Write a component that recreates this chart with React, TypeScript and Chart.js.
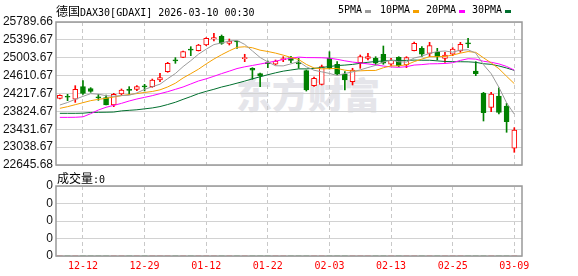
import React, { useEffect, useRef } from 'react';
import { Chart, registerables } from 'chart.js';

Chart.register(...registerables);

// ---------- data ----------
const dates = [
  '12-09', '12-10', '12-11', '12-12', '12-15', '12-16', '12-17', '12-18', '12-19', '12-22',
  '12-23', '12-29', '12-30', '01-02', '01-05', '01-06', '01-07', '01-08', '01-09', '01-12',
  '01-13', '01-14', '01-15', '01-16', '01-19', '01-20', '01-21', '01-22', '01-23', '01-26',
  '01-27', '01-28', '01-29', '01-30', '02-02', '02-03', '02-04', '02-05', '02-06', '02-09',
  '02-10', '02-11', '02-12', '02-13', '02-16', '02-17', '02-18', '02-19', '02-20', '02-23',
  '02-24', '02-25', '02-26', '02-27', '03-02', '03-03', '03-04', '03-05', '03-06', '03-09',
];

const opens = [
  24112, 24150, 24095, 24370, 24325, 24135, 24130, 23965, 24207, 24300,
  24309, 24375, 24368, 24515, 24698, 24945, 25010, 25180, 25159, 25284,
  25416, 25474, 25321, 25362, 24985, 24772, 24653, 24890, 24860, 24961,
  25005, 24900, 24720, 24389, 24420, 24990, 24860, 24640, 24477, 24895,
  24990, 24990, 25080, 24860, 25013, 24844, 25159, 25211, 25101, 25123,
  24990, 25080, 25152, 25330, 24712, 24229, 23914, 24163, 23943, 23013,
];
const highs = [
  24190, 24200, 24390, 24500, 24346, 24199, 24185, 24221, 24317, 24368,
  24390, 24419, 24536, 24661, 24903, 25006, 25152, 25247, 25299, 25445,
  25541, 25504, 25416, 25372, 25080, 24785, 24668, 24932, 24954, 25027,
  25035, 24990, 24734, 24580, 24844, 25137, 24917, 24697, 24772, 25064,
  25101, 25027, 25262, 24990, 25027, 25027, 25350, 25247, 25343, 25211,
  25123, 25225, 25343, 25431, 24917, 24244, 24244, 24345, 24002, 23466,
];
const lows = [
  24100, 24060, 24023, 24195, 24243, 24067, 23965, 23928, 24185, 24199,
  24280, 24273, 24353, 24478, 24683, 24881, 25005, 25049, 25152, 25269,
  25372, 25299, 25284, 25211, 24917, 24530, 24367, 24785, 24844, 24917,
  24895, 24772, 24272, 24376, 24405, 24756, 24625, 24295, 24405, 24772,
  24954, 24844, 24860, 24829, 24807, 24785, 25152, 25027, 25027, 24954,
  24903, 25049, 25123, 25225, 24609, 23613, 23818, 23767, 23365, 22925,
];
const closes = [
  24180, 24135, 24310, 24218, 24262, 24122, 23965, 24199, 24295, 24288,
  24368, 24365, 24515, 24566, 24881, 24935, 25137, 25170, 25284, 25431,
  25445, 25321, 25372, 25350, 24995, 24728, 24603, 24875, 24932, 24983,
  24947, 24870, 24295, 24551, 24807, 24772, 24640, 24514, 24734, 25027,
  25027, 24882, 24882, 24954, 24829, 25005, 25321, 25080, 25269, 25027,
  25064, 25196, 25299, 25310, 24653, 23796, 24207, 23804, 23598, 23415,
];

const ma5 = [
  23965, 24020, 24090, 24155, 24214, 24202, 24170, 24156, 24173, 24179,
  24230, 24309, 24367, 24422, 24544, 24657, 24809, 24940, 25082, 25192,
  25293, 25330, 25371, 25384, 25297, 25153, 25010, 24911, 24828, 24825,
  24869, 24922, 24805, 24729, 24694, 24659, 24613, 24657, 24693, 24737,
  24788, 24837, 24910, 24954, 24915, 24910, 24998, 25038, 25101, 25140,
  25152, 25127, 25171, 25179, 25104, 24851, 24653, 24354, 24012, 23764,
];
const ma10 = [
  23892, 23928, 23972, 24016, 24060, 24089, 24111, 24141, 24170, 24196,
  24216, 24240, 24262, 24298, 24362, 24444, 24559, 24654, 24752, 24868,
  24975, 25070, 25156, 25233, 25245, 25223, 25170, 25141, 25106, 25061,
  25011, 24966, 24858, 24779, 24760, 24764, 24768, 24731, 24711, 24716,
  24724, 24725, 24784, 24824, 24826, 24849, 24918, 24974, 25028, 25028,
  25031, 25063, 25105, 25140, 25122, 25002, 24890, 24763, 24596, 24434,
];
const ma20 = [
  23693, 23693, 23695, 23705, 23774, 23855, 23914, 23957, 24001, 24053,
  24097, 24133, 24170, 24214, 24258, 24309, 24361, 24427, 24493, 24540,
  24596, 24655, 24709, 24766, 24804, 24834, 24865, 24898, 24929, 24965,
  24993, 25018, 25007, 25006, 25003, 24994, 24969, 24936, 24909, 24889,
  24868, 24846, 24821, 24802, 24793, 24807, 24843, 24853, 24870, 24872,
  24878, 24894, 24945, 24982, 24974, 24926, 24904, 24869, 24812, 24731,
];
const ma30 = [
  23782, 23782, 23782, 23785, 23800, 23804, 23806, 23810, 23835, 23848,
  23860, 23880, 23900, 23930, 23975, 24025, 24089, 24150, 24215, 24265,
  24310, 24360, 24400, 24445, 24490, 24540, 24585, 24630, 24672, 24709,
  24734, 24759, 24759, 24770, 24789, 24811, 24832, 24842, 24857, 24882,
  24904, 24921, 24933, 24946, 24944, 24946, 24952, 24949, 24949, 24935,
  24922, 24918, 24916, 24914, 24903, 24872, 24859, 24823, 24778, 24726,
];

const volumes = [
  0, 0, 0, 0, 0, 0, 0, 0, 0, 0,
  0, 0, 0, 0, 0, 0, 0, 0, 0, 0,
  0, 0, 0, 0, 0, 0, 0, 0, 0, 0,
  0, 0, 0, 0, 0, 0, 0, 0, 0, 0,
  0, 0, 0, 0, 0, 0, 0, 0, 0, 0,
  0, 0, 0, 0, 0, 0, 0, 0, 0, 0,
];

const priceTicks = [
  22645.68, 23038.67, 23431.67, 23824.67, 24217.67, 24610.67, 25003.67, 25396.67, 25789.66,
];
const volumeTicks = [0, 1, 2, 3, 4];
const volumeTickLabels = ['0', '0', '0', '0', '0'];
const dateTickLabels = ['12-12', '12-29', '01-12', '01-22', '02-03', '02-13', '02-25', '03-09'];

const maSeries = [
  { name: '5PMA', values: ma5, color: '#9b9b9b' },
  { name: '10PMA', values: ma10, color: '#f5a000' },
  { name: '20PMA', values: ma20, color: '#ff00ff' },
  { name: '30PMA', values: ma30, color: '#006f2e' },
];

const titleCJK = '德国';
const titleRest = 'DAX30[GDAXI] 2026-03-10 00:30';
const volumeLabelCJK = '成交量';
const volumeLabelRest = ':0';
const watermark = '东方财富';

// ---------- style constants ----------
const UP = '#ff0000';
const DOWN = '#008000';
const GRID = '#d2d2d2';
const FRAME = '#999999';
const MONO = "'DejaVu Sans Mono', 'Liberation Mono', monospace";
const SANS = "'Liberation Sans', Arial, sans-serif";
const CJK = "'Noto Sans CJK SC', sans-serif";

const X_MIN = -0.5;
const X_MAX = 60;

const dateTickIdx = dateTickLabels.map((l) => dates.indexOf(l));

const framePlugin = {
  id: 'frame',
  afterDraw(chart: any) {
    const { ctx, chartArea: a } = chart;
    ctx.save();
    ctx.strokeStyle = FRAME;
    ctx.lineWidth = 1.5;
    ctx.strokeRect(a.left, a.top, a.right - a.left, a.bottom - a.top);
    ctx.restore();
  },
};

export default function App() {
  const mainRef = useRef<HTMLCanvasElement>(null);
  const volRef = useRef<HTMLCanvasElement>(null);

  useEffect(() => {
    const isUp = closes.map((c, i) => c >= opens[i]);

    const xScaleBase = {
      type: 'linear' as const,
      min: X_MIN,
      max: X_MAX,
      offset: false,
      grid: { color: '#c9c9c9', lineWidth: 1, drawTicks: false, offset: false },
      border: { display: false, dash: [4, 3] },
      afterBuildTicks: (scale: any) => {
        scale.ticks = dateTickIdx.map((v) => ({ value: v }));
      },
    };

    const main = new Chart(mainRef.current as HTMLCanvasElement, {
      type: 'line',
      data: {
        datasets: [
          ...maSeries.map((m) => ({
            type: 'line' as const,
            label: m.name,
            data: m.values.map((v, i) => ({ x: i, y: v })),
            borderColor: m.color,
            borderWidth: 1,
            pointRadius: 0,
            tension: 0,
            fill: false,
            order: 0,
          })),
          {
            type: 'bar' as const,
            label: 'body',
            data: opens.map((o, i) => ({ x: i, y: [o, closes[i]] })) as any,
            backgroundColor: isUp.map((u) => (u ? '#ffffff' : DOWN)),
            borderColor: isUp.map((u) => (u ? UP : DOWN)),
            borderWidth: 1,
            borderSkipped: false,
            barThickness: 5,
            minBarLength: 1,
            grouped: false,
            order: 1,
          },
          {
            type: 'bar' as const,
            label: 'wick',
            data: lows.map((l, i) => ({ x: i, y: [l, highs[i]] })) as any,
            backgroundColor: isUp.map((u) => (u ? UP : DOWN)),
            borderWidth: 0,
            barThickness: 1,
            grouped: false,
            order: 2,
          },
        ],
      },
      options: {
        responsive: false,
        maintainAspectRatio: false,
        animation: false,
        events: [],
        layout: { padding: { left: 0, right: 56, top: 22, bottom: 13 } },
        plugins: { legend: { display: false }, tooltip: { enabled: false }, title: { display: false } },
        scales: {
          x: {
            ...xScaleBase,
            ticks: { display: false },
            afterFit: (scale: any) => {
              scale.height = 0;
            },
          },
          y: {
            type: 'linear',
            min: priceTicks[0],
            max: priceTicks[priceTicks.length - 1],
            grid: { color: GRID, lineWidth: 1, drawTicks: false },
            border: { display: false },
            afterBuildTicks: (scale: any) => {
              scale.ticks = priceTicks.map((v) => ({ value: v }));
            },
            ticks: {
              padding: 3,
              color: '#111',
              font: { family: SANS, size: 12 },
              callback: (v: any) => Number(v).toFixed(2),
            },
            afterFit: (scale: any) => {
              scale.width = 56;
            },
          },
        },
      } as any,
      plugins: [framePlugin],
    });

    const vol = new Chart(volRef.current as HTMLCanvasElement, {
      type: 'bar',
      data: {
        datasets: [
          {
            label: 'volume',
            data: volumes.map((v, i) => ({ x: i, y: v })) as any,
            backgroundColor: isUp.map((u) => (u ? UP : DOWN)),
            barThickness: 5,
            grouped: false,
          },
        ],
      },
      options: {
        responsive: false,
        maintainAspectRatio: false,
        animation: false,
        events: [],
        layout: { padding: { left: 0, right: 56, top: 16, bottom: 0 } },
        plugins: { legend: { display: false }, tooltip: { enabled: false } },
        scales: {
          x: {
            ...xScaleBase,
            ticks: {
              display: true,
              autoSkip: false,
              maxRotation: 0,
              minRotation: 0,
              padding: 4,
              color: '#ff0000',
              font: { family: MONO, size: 10 },
              callback: (v: any) => dates[Math.round(Number(v))] ?? '',
            },
            afterFit: (scale: any) => {
              scale.height = 20;
            },
          },
          y: {
            type: 'linear',
            min: volumeTicks[0],
            max: volumeTicks[volumeTicks.length - 1],
            grid: { color: GRID, lineWidth: 1, drawTicks: false },
            border: { display: false },
            afterBuildTicks: (scale: any) => {
              scale.ticks = volumeTicks.map((v) => ({ value: v }));
            },
            ticks: {
              padding: 3,
              color: '#111',
              font: { family: SANS, size: 12 },
              callback: (_v: any, idx: number) => volumeTickLabels[idx],
            },
            afterFit: (scale: any) => {
              scale.width = 56;
            },
          },
        },
      } as any,
      plugins: [framePlugin],
    });

    return () => {
      main.destroy();
      vol.destroy();
    };
  }, []);

  const legendLeft = [338, 380, 426, 472];

  return (
    <div
      style={{
        position: 'fixed',
        left: 0,
        top: 0,
        width: 578,
        height: 276,
        background: '#ffffff',
        overflow: 'hidden',
      }}
    >
      {/* watermark */}
      <div
        style={{
          position: 'absolute',
          left: 236,
          top: 75,
          font: `900 36px ${CJK}`,
          lineHeight: '36px',
          color: '#e5e5ea',
          whiteSpace: 'nowrap',
        }}
      >
        {watermark}
      </div>

      <canvas
        ref={mainRef}
        width={578}
        height={178}
        style={{ position: 'absolute', left: 0, top: 0, width: 578, height: 178 }}
      />
      <canvas
        ref={volRef}
        width={578}
        height={106}
        style={{ position: 'absolute', left: 0, top: 170, width: 578, height: 106 }}
      />

      {/* title */}
      <div
        style={{
          position: 'absolute',
          left: 56,
          top: 2,
          font: `10px ${MONO}`,
          lineHeight: '16px',
          color: '#000',
          whiteSpace: 'nowrap',
        }}
      >
        <span style={{ font: `12px ${CJK}` }}>{titleCJK}</span>
        {titleRest}
      </div>

      {/* legend */}
      {maSeries.map((m, i) => (
        <div
          key={m.name}
          style={{
            position: 'absolute',
            left: legendLeft[i],
            top: 2,
            font: `10px ${MONO}`,
            lineHeight: '16px',
            color: '#000',
            whiteSpace: 'nowrap',
            display: 'flex',
            alignItems: 'center',
          }}
        >
          <span>{m.name}</span>
          <span
            style={{
              display: 'inline-block',
              width: 6,
              height: 3,
              marginLeft: 3,
              marginTop: 2,
              background: m.color,
            }}
          />
        </div>
      ))}

      {/* volume label */}
      <div
        style={{
          position: 'absolute',
          left: 57,
          top: 169,
          font: `10px ${MONO}`,
          lineHeight: '16px',
          color: '#000',
          whiteSpace: 'nowrap',
        }}
      >
        <span style={{ font: `12px ${CJK}` }}>{volumeLabelCJK}</span>
        {volumeLabelRest}
      </div>
    </div>
  );
}
